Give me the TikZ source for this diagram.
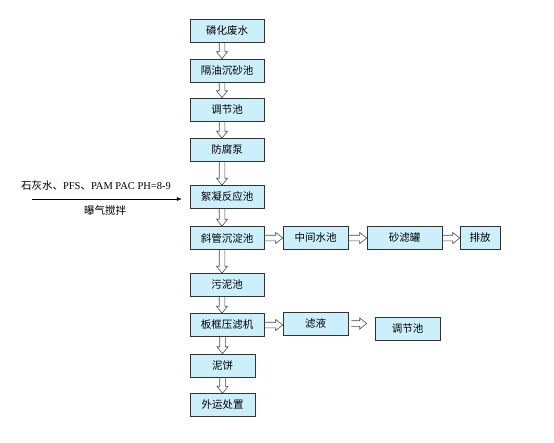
\documentclass[tikz,border=0pt]{standalone}
\usepackage{fontspec}
\setmainfont{Noto Sans CJK SC}
\newfontfamily\latfont{Liberation Serif}
\usetikzlibrary{arrows.meta,calc}

\tikzset{
  box/.style={draw=black!80, fill=cyan!20, line width=0.5pt, minimum height=23pt,
    minimum width=74pt, inner sep=0pt, font=\fontsize{10.5}{12}\selectfont},
  boxs/.style={box, minimum width=65pt},
  flowdown/.style={draw=black!70, line width=0.6pt, to path={
    let \p1=(\tikztostart), \p2=(\tikztotarget) in
    (\x1-2.8pt,\y1) -- (\x1-2.8pt,\y2+7pt) -- (\x1-5.5pt,\y2+7pt) -- (\x1,\y2)
    -- (\x1+5.5pt,\y2+7pt) -- (\x1+2.8pt,\y2+7pt) -- (\x1+2.8pt,\y1)}},
  flowright/.style={draw=black!70, line width=0.6pt, to path={
    let \p1=(\tikztostart), \p2=(\tikztotarget) in
    (\x1,\y1+2.8pt) -- (\x2-7pt,\y1+2.8pt) -- (\x2-7pt,\y1+5.5pt) -- (\x2,\y1)
    -- (\x2-7pt,\y1-5.5pt) -- (\x2-7pt,\y1-2.8pt) -- (\x1,\y1-2.8pt)}},
}

\begin{document}
\begin{tikzpicture}[x=1pt, y=-1pt]
  \useasboundingbox (0,0) rectangle (554,442);

  % main column
  \node[box](lin) at (227,30.5) {磷化废水};
  \node[box](geyou) at (227,70.5) {隔油沉砂池};
  \node[box](tiaojie) at (227,109.5) {调节池};
  \node[box](fangfu) at (227,150) {防腐泵};
  \node[box](xuning) at (227,197) {絮凝反应池};
  \node[box](xieguan) at (227,238) {斜管沉淀池};
  \node[box](wuni) at (227,285) {污泥池};
  \node[box](bankuang) at (227,325) {板框压滤机};
  \node[boxs](nibing) at (222.5,365.5) {泥饼};
  \node[boxs](waiyun) at (222.5,405) {外运处置};

  % side branches
  \node[boxs](zhongjian) at (315.5,238) {中间水池};
  \node[box, minimum width=75pt](shalv) at (404.5,238) {砂滤罐};
  \node[box, minimum width=40pt](paifang) at (480,238) {排放};
  \node[boxs](lvye) at (315.5,323.5) {滤液};
  \node[boxs](tiaojieb) at (407.5,328.5) {调节池};

  % dosing line
  \coordinate (feed) at (32,199);
  \draw[line width=0.5pt, -{Latex[length=5pt, width=4pt]}] (feed) -- ([xshift=-8pt]feed -| xuning.west);
  \node[font=\fontsize{10.5}{12}\selectfont](yaoji) at (96,186) {石灰水、\latfont PFS\normalfont 、\latfont PAM PAC PH=8-9};
  \node[font=\fontsize{10.5}{12}\selectfont](puqi) at (105,211) {曝气搅拌};

  % vertical flow
  \foreach \a/\b in {lin/geyou, geyou/tiaojie, tiaojie/fangfu, fangfu/xuning,
      xuning/xieguan, xieguan/wuni, wuni/bankuang}
    \draw[flowdown] ([xshift=-5pt]\a.south) to ([xshift=-5pt]\b.north);
  \draw[flowdown] (bankuang.south -| nibing) to (nibing.north);
  \draw[flowdown] (nibing.south) to (waiyun.north);

  % horizontal flow
  \draw[flowright] (xieguan.east) to (zhongjian.west);
  \draw[flowright] (zhongjian.east) to (shalv.west);
  \draw[flowright] (shalv.east) to (paifang.west);
  \draw[flowright] (bankuang.east) to (bankuang.east -| lvye.west);
  \draw[flowright] ([xshift=3pt]lvye.east) to ([xshift=-8pt]lvye.east -| tiaojieb.west);
\end{tikzpicture}
\end{document}
